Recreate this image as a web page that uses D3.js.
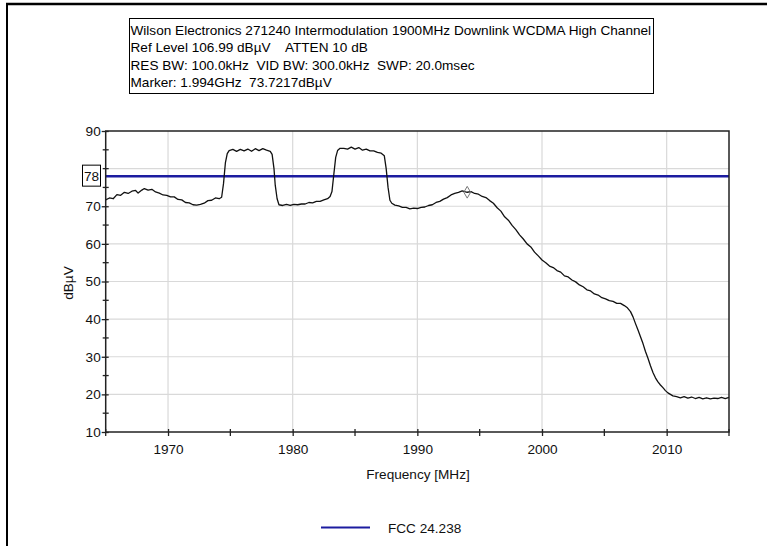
<!DOCTYPE html>
<html>
<head>
<meta charset="utf-8">
<script src="https://cdn.jsdelivr.net/npm/d3@7"></script>
<style>
  html, body { margin: 0; padding: 0; background: #fff; }
  svg { display: block; font-family: "Liberation Sans", Arial, sans-serif; }
  text { white-space: pre; }
</style>
</head>
<body>
<svg id="chart" width="767" height="546"></svg>
<script>
// Spectrum analyser sweep, 1965-2015 MHz
const freqMHz = [
  1965.0,1965.3,1965.6,1965.9,1966.2,1966.5,1966.8,1967.1,1967.4,1967.6,1967.9,1968.1,1968.4,1968.7,1969.0,1969.3,1969.6,1969.9,
  1970.2,1970.5,1970.8,1971.1,1971.4,1971.7,1972.0,1972.3,1972.6,1972.9,1973.2,1973.5,1973.8,1974.1,1974.3,1974.45,1974.6,1974.75,
  1974.9,1975.2,1975.5,1975.8,1976.1,1976.4,1976.7,1977.0,1977.3,1977.6,1977.9,1978.2,1978.35,1978.5,1978.6,1978.75,1978.9,
  1979.2,1979.5,1979.8,1980.1,1980.4,1980.7,1981.0,1981.3,1981.6,1981.9,1982.2,1982.5,1982.8,1983.0,1983.15,1983.3,1983.45,
  1983.6,1983.8,1984.1,1984.4,1984.7,1985.0,1985.3,1985.6,1985.9,1986.2,1986.5,1986.8,1987.1,1987.35,1987.5,1987.65,1987.8,
  1987.95,1988.2,1988.5,1988.8,1989.1,1989.4,1989.7,1990.0,1990.3,1990.6,1990.9,1991.2,1991.5,1991.8,1992.1,1992.4,1992.7,
  1993.0,1993.3,1993.6,1993.8,1994.0,1994.3,1994.6,1994.9,1995.2,1995.5,1995.8,1996.1,1996.4,1996.7,1997.0,1997.3,1997.6,
  1997.9,1998.2,1998.5,1998.8,1999.1,1999.4,1999.7,2000.0,2000.3,2000.6,2000.9,2001.2,2001.5,2001.8,2002.1,2002.4,2002.7,
  2003.0,2003.3,2003.6,2003.9,2004.2,2004.5,2004.8,2005.1,2005.4,2005.7,2006.0,2006.3,2006.6,2006.85,2007.1,2007.3,2007.5,
  2007.7,2007.9,2008.1,2008.3,2008.5,2008.7,2008.9,2009.1,2009.3,2009.5,2009.7,2009.9,2010.1,2010.3,2010.5,2010.8,2011.1,
  2011.4,2011.7,2012.0,2012.3,2012.6,2012.9,2013.2,2013.5,2013.8,2014.1,2014.4,2014.7,2015.0
];
const levelDbuV = [
  71.7,72.2,72.0,73.1,72.9,73.7,73.4,74.0,74.2,73.5,74.3,74.7,74.3,74.5,73.8,73.5,73.0,72.9,
  72.5,72.5,71.8,71.7,71.0,70.9,70.4,70.3,70.5,70.8,71.5,71.6,72.2,72.0,72.4,76.0,81.5,84.0,
  84.8,85.1,84.6,85.1,84.7,85.2,84.6,85.3,84.8,85.3,84.9,84.6,83.8,80.0,75.6,72.0,70.4,
  70.2,70.5,70.2,70.5,70.4,70.6,70.6,71.0,70.9,71.3,71.3,71.7,72.0,72.6,73.9,78.5,83.0,
  84.8,85.4,85.4,85.2,85.7,85.2,85.6,84.9,85.2,84.7,84.7,84.3,84.1,83.4,80.0,75.0,71.6,
  70.8,70.3,70.1,69.7,69.7,69.3,69.5,69.4,69.7,69.8,70.2,70.4,71.0,71.3,71.9,72.3,73.0,
  73.4,73.7,74.1,73.9,73.72,73.9,73.4,73.2,72.6,72.3,71.5,70.8,69.6,68.7,67.2,66.3,64.9,
  63.8,62.4,61.3,60.0,59.2,57.8,56.8,55.7,55.0,54.1,53.7,52.9,52.5,51.5,51.2,50.4,49.9,
  49.1,48.6,47.8,47.5,46.7,46.4,45.7,45.4,44.9,44.7,44.2,44.2,43.6,43.0,42.0,40.6,38.8,
  37.1,35.3,33.5,31.4,29.6,27.6,25.8,24.4,23.3,22.5,21.8,21.0,20.4,20.0,19.6,19.4,19.1,
  19.4,19.0,19.3,18.9,19.2,18.8,19.1,18.8,19.0,18.9,19.2,18.9,19.2
];

const limitLevel = 78;                 // FCC 24.238 limit line
const limitName = "FCC 24.238";
const markerFreq = 1994.0;             // marker position (MHz)
const markerLevel = 73.7217;

const xDomain = [1965, 2015];
const yDomain = [10, 90];
const xMajorTicks = [1970, 1980, 1990, 2000, 2010];
const xMinorTicks = [1965, 1975, 1985, 1995, 2005, 2015];
const yMajorTicks = [10, 20, 30, 40, 50, 60, 70, 80, 90];
const yMinorTicks = [15, 25, 35, 45, 55, 65, 75, 85];
const yGridTicks = [20, 30, 40, 50, 60, 70, 80];

const headerLines = [
  "Wilson Electronics 271240 Intermodulation 1900MHz Downlink WCDMA High Channel",
  "Ref Level 106.99 dB\u00b5V    ATTEN 10 dB",
  "RES BW: 100.0kHz  VID BW: 300.0kHz  SWP: 20.0msec",
  "Marker: 1.994GHz  73.7217dB\u00b5V"
];

const FS = 13.6;
const svg = d3.select("#chart");
const plot = { left: 105.7, right: 729, top: 131, bottom: 432 };

const x = d3.scaleLinear().domain(xDomain).range([plot.left, plot.right]);
const y = d3.scaleLinear().domain(yDomain).range([plot.bottom, plot.top]);

// page frame (top and left edges)
svg.append("line").attr("x1", 6).attr("x2", 767).attr("y1", 4).attr("y2", 4)
  .attr("stroke", "#000").attr("stroke-width", 2.5);
svg.append("line").attr("x1", 7).attr("x2", 7).attr("y1", 3).attr("y2", 546)
  .attr("stroke", "#000").attr("stroke-width", 2);

// header box
const hdr = svg.append("g");
hdr.append("rect").attr("x", 129.5).attr("y", 18.5).attr("width", 524).attr("height", 75)
  .attr("fill", "#fff").attr("stroke", "#000").attr("stroke-width", 1);
headerLines.forEach((t, i) => {
  hdr.append("text").attr("x", 130.5).attr("y", 35 + i * 17.3)
    .attr("font-size", FS).attr("fill", "#000").text(t);
});

// grid
const grid = svg.append("g").attr("stroke", "#d9d9d9").attr("stroke-width", 1.2);
grid.selectAll(".gy").data(yGridTicks).join("line")
  .attr("x1", plot.left).attr("x2", plot.right)
  .attr("y1", d => y(d)).attr("y2", d => y(d));
grid.selectAll(".gx").data(xMajorTicks).join("line")
  .attr("y1", plot.top).attr("y2", plot.bottom)
  .attr("x1", d => x(d)).attr("x2", d => x(d));

// limit line
svg.append("line")
  .attr("x1", plot.left).attr("x2", plot.right)
  .attr("y1", y(limitLevel)).attr("y2", y(limitLevel))
  .attr("stroke", "#1c1ca0").attr("stroke-width", 2.5);

// trace
const trace = freqMHz.map((f, i) => [f, levelDbuV[i]]);
svg.append("path").datum(trace)
  .attr("fill", "none").attr("stroke", "#111").attr("stroke-width", 1.3)
  .attr("stroke-linejoin", "round")
  .attr("d", d3.line().x(d => x(d[0])).y(d => y(d[1])));

// marker diamond
svg.append("path")
  .attr("d", d3.symbol().type(d3.symbolDiamond).size(40)())
  .attr("transform", `translate(${x(markerFreq)},${y(markerLevel)})`)
  .attr("fill", "none").attr("stroke", "#777").attr("stroke-width", 1);

// frame
svg.append("rect")
  .attr("x", plot.left).attr("y", plot.top)
  .attr("width", plot.right - plot.left).attr("height", plot.bottom - plot.top)
  .attr("fill", "none").attr("stroke", "#222").attr("stroke-width", 1.5);

// y axis
const yAxis = d3.axisLeft(y).tickValues(yMajorTicks.filter(v => v !== 80))
  .tickSizeInner(4).tickSizeOuter(0).tickPadding(1);
const gy = svg.append("g").attr("transform", `translate(${plot.left},0)`).call(yAxis);
gy.select(".domain").remove();
gy.selectAll("text").attr("font-size", FS).attr("fill", "#111")
  .attr("font-family", "Liberation Sans, Arial, sans-serif");
gy.selectAll("line").attr("stroke", "#222").attr("stroke-width", 1.3).attr("x2", -4).attr("x1", 3);
svg.append("g").selectAll("line").data(yMinorTicks.concat([80])).join("line")
  .attr("x1", plot.left - 3).attr("x2", plot.left + 3)
  .attr("y1", d => y(d)).attr("y2", d => y(d))
  .attr("stroke", "#222").attr("stroke-width", 1.3);

// x axis
const xAxis = d3.axisBottom(x).tickValues(xMajorTicks)
  .tickSizeInner(4).tickSizeOuter(0).tickPadding(8).tickFormat(d3.format("d"));
const gx = svg.append("g").attr("transform", `translate(0,${plot.bottom})`).call(xAxis);
gx.select(".domain").remove();
gx.selectAll("text").attr("font-size", FS).attr("fill", "#111")
  .attr("font-family", "Liberation Sans, Arial, sans-serif");
gx.selectAll("line").attr("stroke", "#222").attr("stroke-width", 1.3).attr("y1", -3).attr("y2", 4);
svg.append("g").selectAll("line").data(xMinorTicks).join("line")
  .attr("y1", plot.bottom - 3).attr("y2", plot.bottom + 4)
  .attr("x1", d => x(d)).attr("x2", d => x(d))
  .attr("stroke", "#222").attr("stroke-width", 1.3);

// limit value tag on the y axis
const tagY = y(limitLevel);
svg.append("rect").attr("x", 82.5).attr("y", tagY - 11).attr("width", 18).attr("height", 21)
  .attr("fill", "#fff").attr("stroke", "#000").attr("stroke-width", 1);
svg.append("text").attr("x", 91.5).attr("y", tagY + 5).attr("text-anchor", "middle")
  .attr("font-size", FS).attr("fill", "#111").text(String(limitLevel));

// axis titles
svg.append("text").attr("x", 418).attr("y", 479).attr("text-anchor", "middle")
  .attr("font-size", FS).attr("fill", "#111").text("Frequency [MHz]");
svg.append("text").attr("transform", "translate(73,283) rotate(-90)")
  .attr("text-anchor", "middle").attr("font-size", FS).attr("fill", "#111").text("dB\u00b5V");

// legend
svg.append("line").attr("x1", 321).attr("x2", 370).attr("y1", 527.5).attr("y2", 527.5)
  .attr("stroke", "#1c1ca0").attr("stroke-width", 2);
svg.append("text").attr("x", 388).attr("y", 532.5).attr("font-size", FS)
  .attr("fill", "#111").text(limitName);
</script>
</body>
</html>
